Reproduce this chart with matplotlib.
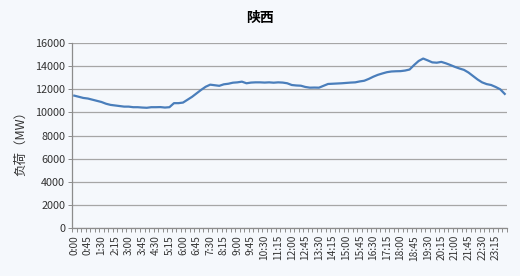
import matplotlib.pyplot as plt
import numpy as np

plt.rcParams['font.family'] = ['Noto Sans CJK SC', 'DejaVu Sans']

# 15-minute load readings for one day (MW)
times = [f'{m // 60}:{m % 60:02d}' for m in range(0, 24 * 60, 15)]
load = [
    11450, 11350, 11250, 11200, 11100, 11000, 10900, 10750,
    10650, 10600, 10550, 10500, 10500, 10450, 10450, 10420,
    10400, 10450, 10450, 10460, 10420, 10450, 10800, 10800,
    10850, 11100, 11350, 11650, 11950, 12220, 12400, 12350,
    12300, 12430, 12480, 12570, 12600, 12660, 12520, 12580,
    12600, 12600, 12580, 12600, 12570, 12600, 12580, 12520,
    12370, 12330, 12310, 12200, 12140, 12150, 12140, 12300,
    12460, 12480, 12500, 12520, 12550, 12580, 12600, 12680,
    12740, 12900, 13090, 13250, 13370, 13480, 13540, 13560,
    13570, 13620, 13710, 14100, 14450, 14660, 14500, 14330,
    14300, 14370, 14250, 14100, 13940, 13800, 13680, 13450,
    13150, 12850, 12600, 12450, 12370, 12200, 12000, 11600,
]
title = '陕西'
ylabel = '负荷（MW）'
yticks = np.arange(0, 16001, 2000)

bg = '#f5f8fc'
fig = plt.figure(figsize=(5.2, 2.76), dpi=100, facecolor=bg)
ax = fig.add_axes([0.1385, 0.174, 0.8365, 0.670], facecolor=bg)

x = np.arange(len(load))
ax.plot(x, load, color='#4a7ebb', linewidth=1.6)

ax.set_xlim(-0.5, len(load) - 0.5)
ax.set_ylim(0, 16000)
ax.set_yticks(yticks)
ax.set_yticklabels([str(v) for v in yticks], fontsize=7.8, color='#333333')
ax.grid(axis='y', color='#a6a6a6', linewidth=0.9)
ax.set_axisbelow(True)

ax.set_xticks(x[::3])
ax.set_xticklabels(times[::3], rotation=90, fontsize=7.3, color='#333333')
ax.set_xticks(np.arange(-0.5, len(load), 1), minor=True)
ax.tick_params(axis='x', which='major', length=0, pad=5)
ax.tick_params(axis='x', which='minor', length=3, color='#8c8c8c', width=0.7)
ax.tick_params(axis='y', length=3, color='#8c8c8c', width=0.7, pad=2)

for side in ['top', 'right']:
    ax.spines[side].set_visible(False)
for side in ['left', 'bottom']:
    ax.spines[side].set_color('#8c8c8c')
    ax.spines[side].set_linewidth(0.9)

fig.text(0.5, 0.935, title, ha='center', va='center', fontsize=10, fontweight='bold')
fig.text(0.04, 0.49, ylabel, ha='center', va='center', rotation=90, fontsize=9, color='#333333')

fig.savefig('out.png', dpi=100, facecolor=bg)
